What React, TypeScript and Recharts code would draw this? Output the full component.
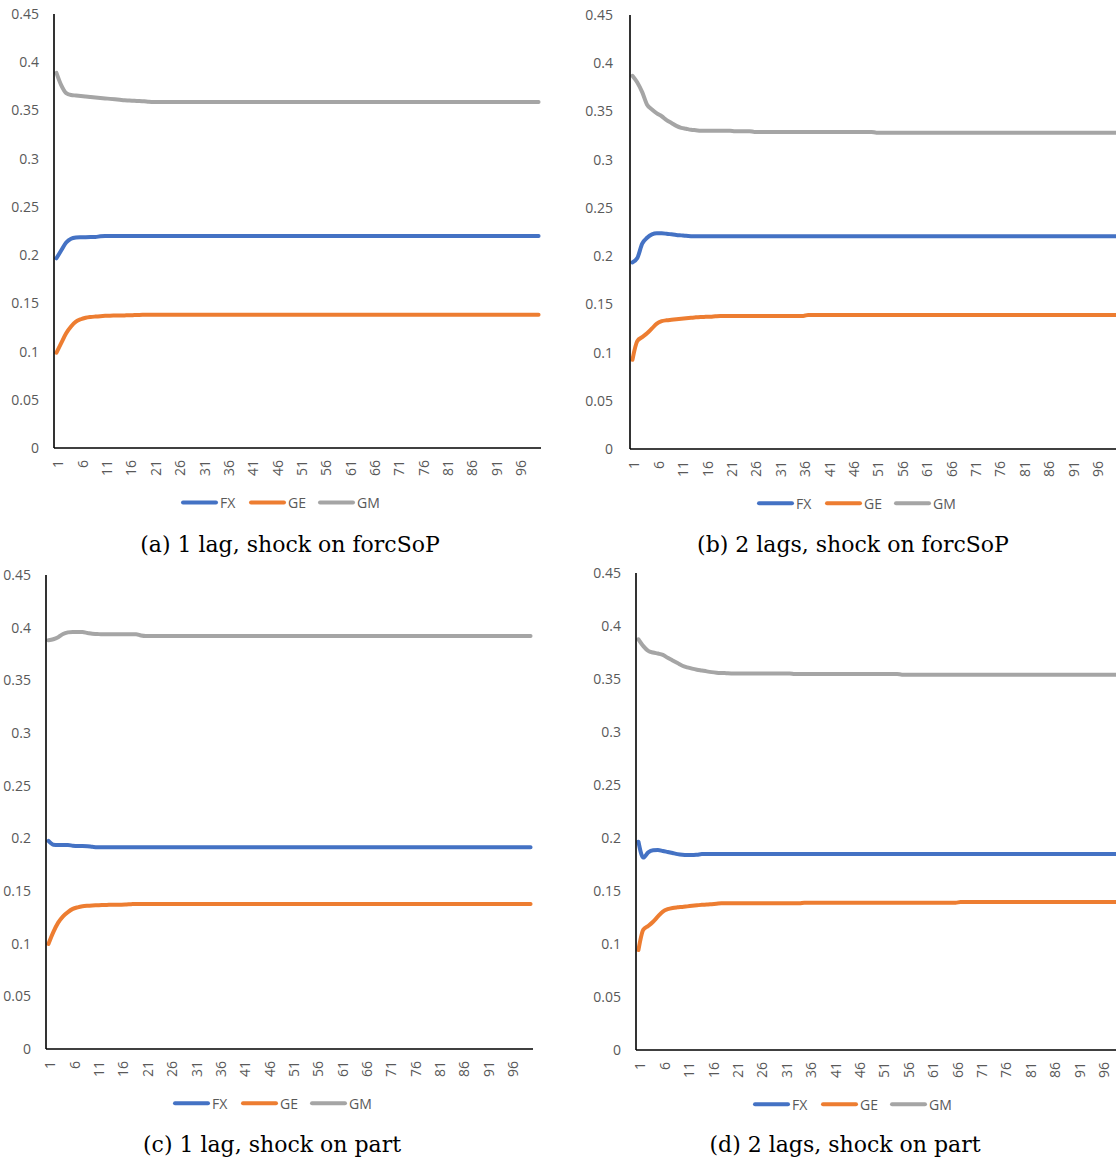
import React from "react";
import { LineChart, Line, XAxis, YAxis } from "recharts";

const T = [
  1, 2, 3, 4, 5, 6, 7, 8, 9, 10, 11, 12, 13, 14, 15, 16, 17, 18, 19, 20,
  21, 22, 23, 24, 25, 26, 27, 28, 29, 30, 31, 32, 33, 34, 35, 36, 37, 38, 39, 40,
  41, 42, 43, 44, 45, 46, 47, 48, 49, 50, 51, 52, 53, 54, 55, 56, 57, 58, 59, 60,
  61, 62, 63, 64, 65, 66, 67, 68, 69, 70, 71, 72, 73, 74, 75, 76, 77, 78, 79, 80,
  81, 82, 83, 84, 85, 86, 87, 88, 89, 90, 91, 92, 93, 94, 95, 96, 97, 98, 99, 100,
];

const Y_TICKS = [0, 0.05, 0.1, 0.15, 0.2, 0.25, 0.3, 0.35, 0.4, 0.45];

// Panel (a) 1 lag, shock on forcSoP
const FX_A = [
  0.1967, 0.205, 0.213, 0.217, 0.2182, 0.2185, 0.2186, 0.2187, 0.2188, 0.2195,
  0.2198, 0.2198, 0.2198, 0.2198, 0.2198, 0.2198, 0.2198, 0.2198, 0.2198, 0.2198,
  0.2198, 0.2198, 0.2198, 0.2198, 0.2198, 0.2198, 0.2198, 0.2198, 0.2198, 0.2198,
  0.2198, 0.2198, 0.2198, 0.2198, 0.2198, 0.2198, 0.2198, 0.2198, 0.2198, 0.2198,
  0.2198, 0.2198, 0.2198, 0.2198, 0.2198, 0.2198, 0.2198, 0.2198, 0.2198, 0.2198,
  0.2198, 0.2198, 0.2198, 0.2198, 0.2198, 0.2198, 0.2198, 0.2198, 0.2198, 0.2198,
  0.2198, 0.2198, 0.2198, 0.2198, 0.2198, 0.2198, 0.2198, 0.2198, 0.2198, 0.2198,
  0.2198, 0.2198, 0.2198, 0.2198, 0.2198, 0.2198, 0.2198, 0.2198, 0.2198, 0.2198,
  0.2198, 0.2198, 0.2198, 0.2198, 0.2198, 0.2198, 0.2198, 0.2198, 0.2198, 0.2198,
  0.2198, 0.2198, 0.2198, 0.2198, 0.2198, 0.2198, 0.2198, 0.2198, 0.2198, 0.2198,
];
const GE_A = [
  0.0988, 0.109, 0.119, 0.126, 0.131, 0.1335, 0.135, 0.1358, 0.1363, 0.1367,
  0.137, 0.1372, 0.1373, 0.1374, 0.1375, 0.1376, 0.1378, 0.138, 0.1381, 0.1382,
  0.1382, 0.1382, 0.1382, 0.1382, 0.1382, 0.1382, 0.1382, 0.1382, 0.1382, 0.1382,
  0.1382, 0.1382, 0.1382, 0.1382, 0.1382, 0.1382, 0.1382, 0.1382, 0.1382, 0.1382,
  0.1382, 0.1382, 0.1382, 0.1382, 0.1382, 0.1382, 0.1382, 0.1382, 0.1382, 0.1382,
  0.1382, 0.1382, 0.1382, 0.1382, 0.1382, 0.1382, 0.1382, 0.1382, 0.1382, 0.1382,
  0.1382, 0.1382, 0.1382, 0.1382, 0.1382, 0.1382, 0.1382, 0.1382, 0.1382, 0.1382,
  0.1382, 0.1382, 0.1382, 0.1382, 0.1382, 0.1382, 0.1382, 0.1382, 0.1382, 0.1382,
  0.1382, 0.1382, 0.1382, 0.1382, 0.1382, 0.1382, 0.1382, 0.1382, 0.1382, 0.1382,
  0.1382, 0.1382, 0.1382, 0.1382, 0.1382, 0.1382, 0.1382, 0.1382, 0.1382, 0.1382,
];
const GM_A = [
  0.389, 0.376, 0.368, 0.366, 0.3655, 0.365, 0.3645, 0.364, 0.3635, 0.363,
  0.3625, 0.362, 0.3615, 0.361, 0.3605, 0.3603, 0.36, 0.3598, 0.3595, 0.359,
  0.3588, 0.3588, 0.3588, 0.3588, 0.3588, 0.3588, 0.3588, 0.3588, 0.3588, 0.3588,
  0.3588, 0.3588, 0.3588, 0.3588, 0.3588, 0.3588, 0.3588, 0.3588, 0.3588, 0.3588,
  0.3588, 0.3588, 0.3588, 0.3588, 0.3588, 0.3588, 0.3588, 0.3588, 0.3588, 0.3588,
  0.3588, 0.3588, 0.3588, 0.3588, 0.3588, 0.3588, 0.3588, 0.3588, 0.3588, 0.3588,
  0.3588, 0.3588, 0.3588, 0.3588, 0.3588, 0.3588, 0.3588, 0.3588, 0.3588, 0.3588,
  0.3588, 0.3588, 0.3588, 0.3588, 0.3588, 0.3588, 0.3588, 0.3588, 0.3588, 0.3588,
  0.3588, 0.3588, 0.3588, 0.3588, 0.3588, 0.3588, 0.3588, 0.3588, 0.3588, 0.3588,
  0.3588, 0.3588, 0.3588, 0.3588, 0.3588, 0.3588, 0.3588, 0.3588, 0.3588, 0.3588,
];

// Panel (b) 2 lags, shock on forcSoP
const FX_B = [
  0.1935, 0.198, 0.213, 0.219, 0.2225, 0.2236, 0.2236, 0.2232, 0.2226, 0.222,
  0.2215, 0.221, 0.2207, 0.2205, 0.2205, 0.2205, 0.2205, 0.2205, 0.2205, 0.2205,
  0.2205, 0.2205, 0.2205, 0.2205, 0.2205, 0.2205, 0.2205, 0.2205, 0.2205, 0.2205,
  0.2205, 0.2205, 0.2205, 0.2205, 0.2205, 0.2205, 0.2205, 0.2205, 0.2205, 0.2205,
  0.2205, 0.2205, 0.2205, 0.2205, 0.2205, 0.2205, 0.2205, 0.2205, 0.2205, 0.2205,
  0.2205, 0.2205, 0.2205, 0.2205, 0.2205, 0.2205, 0.2205, 0.2205, 0.2205, 0.2205,
  0.2205, 0.2205, 0.2205, 0.2205, 0.2205, 0.2205, 0.2205, 0.2205, 0.2205, 0.2205,
  0.2205, 0.2205, 0.2205, 0.2205, 0.2205, 0.2205, 0.2205, 0.2205, 0.2205, 0.2205,
  0.2205, 0.2205, 0.2205, 0.2205, 0.2205, 0.2205, 0.2205, 0.2205, 0.2205, 0.2205,
  0.2205, 0.2205, 0.2205, 0.2205, 0.2205, 0.2205, 0.2205, 0.2205, 0.2205, 0.2205,
];
const GE_B = [
  0.0925, 0.112, 0.116, 0.12, 0.125, 0.13, 0.1325, 0.1335, 0.134, 0.1345,
  0.135, 0.1355, 0.136, 0.1365, 0.1368, 0.137, 0.1372, 0.1376, 0.1379, 0.1379,
  0.1379, 0.1379, 0.1379, 0.1379, 0.1379, 0.1379, 0.1379, 0.1379, 0.1379, 0.1379,
  0.1379, 0.1379, 0.1379, 0.1379, 0.1379, 0.1379, 0.139, 0.139, 0.139, 0.139,
  0.139, 0.139, 0.139, 0.139, 0.139, 0.139, 0.139, 0.139, 0.139, 0.139,
  0.139, 0.139, 0.139, 0.139, 0.139, 0.139, 0.139, 0.139, 0.139, 0.139,
  0.139, 0.139, 0.139, 0.139, 0.139, 0.139, 0.139, 0.139, 0.139, 0.139,
  0.139, 0.139, 0.139, 0.139, 0.139, 0.139, 0.139, 0.139, 0.139, 0.139,
  0.139, 0.139, 0.139, 0.139, 0.139, 0.139, 0.139, 0.139, 0.139, 0.139,
  0.139, 0.139, 0.139, 0.139, 0.139, 0.139, 0.139, 0.139, 0.139, 0.139,
];
const GM_B = [
  0.387, 0.38, 0.37, 0.357, 0.352, 0.348, 0.345, 0.341, 0.338, 0.335,
  0.333, 0.332, 0.331, 0.3305, 0.33, 0.33, 0.33, 0.33, 0.33, 0.33,
  0.33, 0.3295, 0.3295, 0.3295, 0.3295, 0.3288, 0.3288, 0.3288, 0.3288, 0.3288,
  0.3288, 0.3288, 0.3288, 0.3288, 0.3288, 0.3288, 0.3288, 0.3288, 0.3288, 0.3288,
  0.3288, 0.3288, 0.3288, 0.3288, 0.3288, 0.3288, 0.3288, 0.3288, 0.3288, 0.3288,
  0.328, 0.328, 0.328, 0.328, 0.328, 0.328, 0.328, 0.328, 0.328, 0.328,
  0.328, 0.328, 0.328, 0.328, 0.328, 0.328, 0.328, 0.328, 0.328, 0.328,
  0.328, 0.328, 0.328, 0.328, 0.328, 0.328, 0.328, 0.328, 0.328, 0.328,
  0.328, 0.328, 0.328, 0.328, 0.328, 0.328, 0.328, 0.328, 0.328, 0.328,
  0.328, 0.328, 0.328, 0.328, 0.328, 0.328, 0.328, 0.328, 0.328, 0.328,
];

// Panel (c) 1 lag, shock on part
const FX_C = [
  0.1975, 0.194, 0.1937, 0.1937, 0.1937, 0.193, 0.1927, 0.1927, 0.1925, 0.192,
  0.1916, 0.1916, 0.1916, 0.1916, 0.1916, 0.1916, 0.1916, 0.1916, 0.1916, 0.1916,
  0.1916, 0.1916, 0.1916, 0.1916, 0.1916, 0.1916, 0.1916, 0.1916, 0.1916, 0.1916,
  0.1916, 0.1916, 0.1916, 0.1916, 0.1916, 0.1916, 0.1916, 0.1916, 0.1916, 0.1916,
  0.1916, 0.1916, 0.1916, 0.1916, 0.1916, 0.1916, 0.1916, 0.1916, 0.1916, 0.1916,
  0.1916, 0.1916, 0.1916, 0.1916, 0.1916, 0.1916, 0.1916, 0.1916, 0.1916, 0.1916,
  0.1916, 0.1916, 0.1916, 0.1916, 0.1916, 0.1916, 0.1916, 0.1916, 0.1916, 0.1916,
  0.1916, 0.1916, 0.1916, 0.1916, 0.1916, 0.1916, 0.1916, 0.1916, 0.1916, 0.1916,
  0.1916, 0.1916, 0.1916, 0.1916, 0.1916, 0.1916, 0.1916, 0.1916, 0.1916, 0.1916,
  0.1916, 0.1916, 0.1916, 0.1916, 0.1916, 0.1916, 0.1916, 0.1916, 0.1916, 0.1916,
];
const GE_C = [
  0.0997, 0.111, 0.12, 0.126, 0.13, 0.133, 0.1345, 0.1355, 0.136, 0.1363,
  0.1365, 0.1367, 0.1368, 0.137, 0.137, 0.137, 0.1372, 0.1375, 0.1377, 0.1377,
  0.1377, 0.1377, 0.1377, 0.1377, 0.1377, 0.1377, 0.1377, 0.1377, 0.1377, 0.1377,
  0.1377, 0.1377, 0.1377, 0.1377, 0.1377, 0.1377, 0.1377, 0.1377, 0.1377, 0.1377,
  0.1377, 0.1377, 0.1377, 0.1377, 0.1377, 0.1377, 0.1377, 0.1377, 0.1377, 0.1377,
  0.1377, 0.1377, 0.1377, 0.1377, 0.1377, 0.1377, 0.1377, 0.1377, 0.1377, 0.1377,
  0.1377, 0.1377, 0.1377, 0.1377, 0.1377, 0.1377, 0.1377, 0.1377, 0.1377, 0.1377,
  0.1377, 0.1377, 0.1377, 0.1377, 0.1377, 0.1377, 0.1377, 0.1377, 0.1377, 0.1377,
  0.1377, 0.1377, 0.1377, 0.1377, 0.1377, 0.1377, 0.1377, 0.1377, 0.1377, 0.1377,
  0.1377, 0.1377, 0.1377, 0.1377, 0.1377, 0.1377, 0.1377, 0.1377, 0.1377, 0.1377,
];
const GM_C = [
  0.388, 0.389, 0.391, 0.394, 0.3955, 0.396, 0.396, 0.3958, 0.395, 0.3942,
  0.394, 0.3937, 0.3937, 0.3937, 0.3937, 0.3937, 0.3937, 0.3937, 0.3937, 0.3925,
  0.392, 0.392, 0.392, 0.392, 0.392, 0.392, 0.392, 0.392, 0.392, 0.392,
  0.392, 0.392, 0.392, 0.392, 0.392, 0.392, 0.392, 0.392, 0.392, 0.392,
  0.392, 0.392, 0.392, 0.392, 0.392, 0.392, 0.392, 0.392, 0.392, 0.392,
  0.392, 0.392, 0.392, 0.392, 0.392, 0.392, 0.392, 0.392, 0.392, 0.392,
  0.392, 0.392, 0.392, 0.392, 0.392, 0.392, 0.392, 0.392, 0.392, 0.392,
  0.392, 0.392, 0.392, 0.392, 0.392, 0.392, 0.392, 0.392, 0.392, 0.392,
  0.392, 0.392, 0.392, 0.392, 0.392, 0.392, 0.392, 0.392, 0.392, 0.392,
  0.392, 0.392, 0.392, 0.392, 0.392, 0.392, 0.392, 0.392, 0.392, 0.392,
];

// Panel (d) 2 lags, shock on part
const FX_D = [
  0.1965, 0.1815, 0.1865, 0.1885, 0.1887, 0.1878, 0.1868, 0.1858, 0.1848, 0.1842,
  0.184, 0.184, 0.1843, 0.1848, 0.1849, 0.1849, 0.1849, 0.1849, 0.1849, 0.1849,
  0.1849, 0.1849, 0.1849, 0.1849, 0.1849, 0.1849, 0.1849, 0.1849, 0.1849, 0.1849,
  0.1849, 0.1849, 0.1849, 0.1849, 0.1849, 0.1849, 0.1849, 0.1849, 0.1849, 0.1849,
  0.1849, 0.1849, 0.1849, 0.1849, 0.1849, 0.1849, 0.1849, 0.1849, 0.1849, 0.1849,
  0.1849, 0.1849, 0.1849, 0.1849, 0.1849, 0.1849, 0.1849, 0.1849, 0.1849, 0.1849,
  0.1849, 0.1849, 0.1849, 0.1849, 0.1849, 0.1849, 0.1849, 0.1849, 0.1849, 0.1849,
  0.1849, 0.1849, 0.1849, 0.1849, 0.1849, 0.1849, 0.1849, 0.1849, 0.1849, 0.1849,
  0.1849, 0.1849, 0.1849, 0.1849, 0.1849, 0.1849, 0.1849, 0.1849, 0.1849, 0.1849,
  0.1849, 0.1849, 0.1849, 0.1849, 0.1849, 0.1849, 0.1849, 0.1849, 0.1849, 0.1849,
];
const GE_D = [
  0.0943, 0.1135, 0.117, 0.121, 0.126, 0.1305, 0.1328, 0.134, 0.1346, 0.135,
  0.1355, 0.136, 0.1365, 0.137, 0.1372, 0.1376, 0.138, 0.1384, 0.1384, 0.1384,
  0.1384, 0.1384, 0.1384, 0.1384, 0.1384, 0.1384, 0.1384, 0.1384, 0.1384, 0.1384,
  0.1384, 0.1384, 0.1384, 0.1384, 0.139, 0.139, 0.139, 0.139, 0.139, 0.139,
  0.139, 0.139, 0.139, 0.139, 0.139, 0.139, 0.139, 0.139, 0.139, 0.139,
  0.139, 0.139, 0.139, 0.139, 0.139, 0.139, 0.139, 0.139, 0.139, 0.139,
  0.139, 0.139, 0.139, 0.139, 0.139, 0.139, 0.1396, 0.1396, 0.1396, 0.1396,
  0.1396, 0.1396, 0.1396, 0.1396, 0.1396, 0.1396, 0.1396, 0.1396, 0.1396, 0.1396,
  0.1396, 0.1396, 0.1396, 0.1396, 0.1396, 0.1396, 0.1396, 0.1396, 0.1396, 0.1396,
  0.1396, 0.1396, 0.1396, 0.1396, 0.1396, 0.1396, 0.1396, 0.1396, 0.1396, 0.1396,
];
const GM_D = [
  0.3875, 0.381, 0.3765, 0.375, 0.374, 0.3728, 0.37, 0.3675, 0.365, 0.3625,
  0.361, 0.3598, 0.3588, 0.358, 0.3572, 0.3565, 0.356, 0.3557, 0.3555, 0.3553,
  0.3553, 0.3553, 0.3553, 0.3553, 0.3553, 0.3553, 0.3553, 0.3553, 0.3553, 0.3553,
  0.3553, 0.3553, 0.3547, 0.3547, 0.3547, 0.3547, 0.3547, 0.3547, 0.3547, 0.3547,
  0.3547, 0.3547, 0.3547, 0.3547, 0.3547, 0.3547, 0.3547, 0.3547, 0.3547, 0.3547,
  0.3547, 0.3547, 0.3547, 0.3547, 0.3541, 0.3541, 0.3541, 0.3541, 0.3541, 0.3541,
  0.3541, 0.3541, 0.3541, 0.3541, 0.3541, 0.3541, 0.3541, 0.3541, 0.3541, 0.3541,
  0.3541, 0.3541, 0.3541, 0.3541, 0.3541, 0.3541, 0.3541, 0.3541, 0.3541, 0.3541,
  0.3541, 0.3541, 0.3541, 0.3541, 0.3541, 0.3541, 0.3541, 0.3541, 0.3541, 0.3541,
  0.3541, 0.3541, 0.3541, 0.3541, 0.3541, 0.3541, 0.3541, 0.3541, 0.3541, 0.3541,
];

const SERIES = ["FX", "GE", "GM"];
const COLORS = ["#4472C4", "#ED7D31", "#A5A5A5"];

const buildRows = (fx: number[], ge: number[], gm: number[]) =>
  T.map((t, i) => ({ t, FX: fx[i], GE: ge[i], GM: gm[i] }));

const TICK_FONT = "'Open Sans', 'Liberation Sans', sans-serif";
const TICK_SIZE = 14;
const TEXT_GRAY = "#595959";

const XTick = (props: any) => {
  const { x, y, payload } = props;
  const cx = x + 1.5;
  return (
    <text
      x={cx}
      y={y}
      transform={`rotate(-90 ${cx} ${y})`}
      textAnchor="end"
      dominantBaseline="central"
      fill={TEXT_GRAY}
      fontSize={TICK_SIZE}
      fontFamily={TICK_FONT}
    >
      {payload.value}
    </text>
  );
};

type PanelProps = {
  rows: any[];
  left: number;
  top: number;
  width: number;
  height: number;
  marginTop: number;
  marginRight: number;
  yAxisWidth: number;
  yTickMargin: number;
  legendX: number;
  legendY: number;
  captionX: number;
  captionY: number;
  caption: string;
};

const Panel = (p: PanelProps) => {
  const bandHalf = 2.44;
  return (
    <div style={{ position: "absolute", left: p.left, top: p.top }}>
      <LineChart
        width={p.width}
        height={p.height}
        data={p.rows}
        margin={{ top: p.marginTop, right: p.marginRight, bottom: 0, left: 0 }}
      >
        <XAxis
          dataKey="t"
          type="category"
          interval={4}
          height={32}
          padding={{ left: bandHalf, right: bandHalf }}
          tickLine={false}
          tickSize={0}
          tickMargin={12}
          tick={<XTick />}
          axisLine={{ stroke: "#000", strokeWidth: 1.6 }}
        />
        <YAxis
          type="number"
          domain={[0, 0.45]}
          ticks={Y_TICKS}
          width={p.yAxisWidth}
          tickLine={false}
          tickSize={0}
          tickMargin={p.yTickMargin}
          tick={{ fill: TEXT_GRAY, fontSize: TICK_SIZE, fontFamily: TICK_FONT }}
          axisLine={{ stroke: "#000", strokeWidth: 1.6 }}
          interval={0}
        />
        {SERIES.map((s, i) => (
          <Line
            key={s}
            dataKey={s}
            type="monotone"
            stroke={COLORS[i]}
            strokeWidth={4}
            strokeLinecap="round"
            strokeLinejoin="round"
            dot={false}
            activeDot={false}
            isAnimationActive={false}
          />
        ))}
      </LineChart>
    </div>
  );
};

const LEGEND_OFFSETS = [0, 68, 137];

const Overlay = ({ panels }: { panels: PanelProps[] }) => (
  <svg
    width={1116}
    height={1160}
    style={{ position: "absolute", left: 0, top: 0, pointerEvents: "none" }}
  >
    {panels.map((p, pi) => (
      <g key={pi}>
        {SERIES.map((s, i) => {
          const x0 = p.legendX + LEGEND_OFFSETS[i];
          return (
            <g key={s}>
              <line
                x1={x0 + 2}
                x2={x0 + 35}
                y1={p.legendY}
                y2={p.legendY}
                stroke={COLORS[i]}
                strokeWidth={4}
                strokeLinecap="round"
              />
              <text
                x={x0 + 39}
                y={p.legendY}
                dominantBaseline="central"
                fill={TEXT_GRAY}
                fontSize={TICK_SIZE}
                fontFamily={TICK_FONT}
              >
                {s}
              </text>
            </g>
          );
        })}
        <text
          x={p.captionX}
          y={p.captionY}
          textAnchor="middle"
          fill="#000"
          fontSize={22}
          fontFamily="'DejaVu Serif', 'Liberation Serif', serif"
        >
          {p.caption}
        </text>
      </g>
    ))}
  </svg>
);

export default function App() {
  const panels: PanelProps[] = [
    {
      rows: buildRows(FX_A, GE_A, GM_A),
      left: 0,
      top: 0,
      width: 560,
      height: 480,
      marginTop: 14,
      marginRight: 19,
      yAxisWidth: 54,
      yTickMargin: 15,
      legendX: 181,
      legendY: 502.5,
      captionX: 290,
      captionY: 552,
      caption: "(a) 1 lag, shock on forcSoP",
    },
    {
      rows: buildRows(FX_B, GE_B, GM_B),
      left: 560,
      top: 0,
      width: 570,
      height: 481,
      marginTop: 15,
      marginRight: 12,
      yAxisWidth: 70,
      yTickMargin: 17,
      legendX: 757,
      legendY: 503.3,
      captionX: 853,
      captionY: 552,
      caption: "(b) 2 lags, shock on forcSoP",
    },
    {
      rows: buildRows(FX_C, GE_C, GM_C),
      left: 0,
      top: 560,
      width: 560,
      height: 521,
      marginTop: 15,
      marginRight: 27,
      yAxisWidth: 46,
      yTickMargin: 15,
      legendX: 173,
      legendY: 1103.3,
      captionX: 272,
      captionY: 1152,
      caption: "(c) 1 lag, shock on part",
    },
    {
      rows: buildRows(FX_D, GE_D, GM_D),
      left: 560,
      top: 560,
      width: 576,
      height: 522,
      marginTop: 13,
      marginRight: 12,
      yAxisWidth: 76,
      yTickMargin: 15,
      legendX: 753,
      legendY: 1104.3,
      captionX: 845,
      captionY: 1152,
      caption: "(d) 2 lags, shock on part",
    },
  ];

  return (
    <div
      style={{
        position: "absolute",
        left: 0,
        top: 0,
        width: 1116,
        height: 1160,
        overflow: "hidden",
        background: "#fff",
      }}
    >
      {panels.map((p, i) => (
        <Panel key={i} {...p} />
      ))}
      <Overlay panels={panels} />
    </div>
  );
}
